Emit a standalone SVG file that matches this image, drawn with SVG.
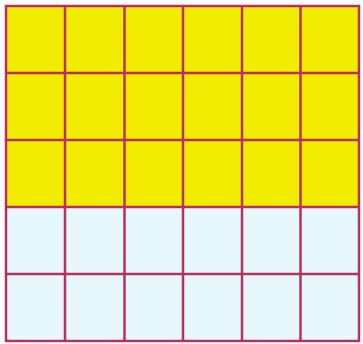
<svg xmlns="http://www.w3.org/2000/svg" width="363" height="344" viewBox="0 0 363 344">
<style>
.g line{stroke:#b8305e;stroke-width:2.5}
</style>
<rect width="363" height="344" fill="#ffffff"/>
<g id="yellow"><rect x="6" y="6" width="353" height="201" fill="#f2ec00"/></g>
<g id="blue"><rect x="6" y="207" width="353" height="134" fill="#e6f8fc"/></g>
<g id="gridlines" class="g">
<line x1="6" y1="5" x2="6" y2="342"/>
<line x1="65" y1="5" x2="65" y2="342"/>
<line x1="124.5" y1="5" x2="124.5" y2="342"/>
<line x1="183" y1="5" x2="183" y2="342"/>
<line x1="242" y1="5" x2="242" y2="342"/>
<line x1="300.5" y1="5" x2="300.5" y2="342"/>
<line x1="359" y1="5" x2="359" y2="342"/>
<line x1="5" y1="6" x2="360" y2="6"/>
<line x1="5" y1="73" x2="360" y2="73"/>
<line x1="5" y1="140" x2="360" y2="140"/>
<line x1="5" y1="207" x2="360" y2="207"/>
<line x1="5" y1="274" x2="360" y2="274"/>
<line x1="5" y1="341" x2="360" y2="341"/>
</g>
</svg>
